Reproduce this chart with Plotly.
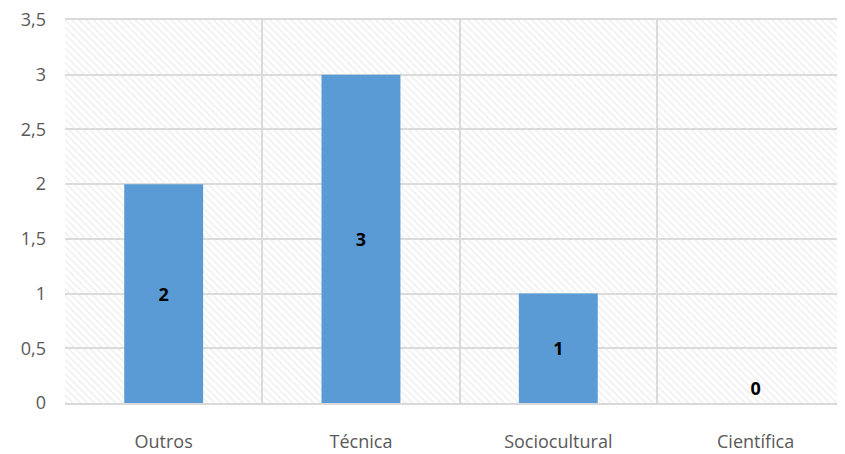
import plotly.graph_objects as go

categories = ["Outros", "Técnica", "Sociocultural", "Científica"]
values = [2, 3, 1, 0]
y_ticks = [0, 0.5, 1, 1.5, 2, 2.5, 3, 3.5]

fig = go.Figure()

# hatched plot background (primary, drawn underneath)
fig.add_trace(go.Bar(
    x=[0.5], y=[3.5], width=[1], base=[0],
    xaxis="x", yaxis="y",
    marker=dict(color="rgba(0,0,0,0)", line=dict(width=0),
                pattern=dict(shape="\\", fgcolor="#e3e3e3", bgcolor="rgba(0,0,0,0)",
                             size=5, solidity=0.35)),
    hoverinfo="skip", showlegend=False,
))

fig.add_trace(go.Bar(
    x=categories, y=values,
    xaxis="x2", yaxis="y",
    marker=dict(color="#5b9bd5", line=dict(width=0)),
    width=0.4,
    text=[str(v) for v in values],
    textposition=["inside", "inside", "inside", "outside"],
    insidetextanchor="middle",
    textfont=dict(family="Open Sans", size=18, color="black", weight="bold"),
    outsidetextfont=dict(family="Open Sans", size=18, color="black", weight="bold"),
    constraintext="none",
    cliponaxis=False,
    showlegend=False,
))

fig.update_layout(
    width=837, height=446,
    margin=dict(l=57, r=0, t=12, b=51),
    paper_bgcolor="white", plot_bgcolor="white",
    separators=",.",
    bargap=0.6,
    font=dict(family="Open Sans", size=18, color="#595959"),
    xaxis=dict(range=[0, 1], visible=False, showgrid=False, zeroline=False, fixedrange=True),
    xaxis2=dict(
        overlaying="x", anchor="y", side="bottom",
        type="category", range=[-0.5, 3.453],
        tickson="boundaries", showgrid=True, gridcolor="#d9d9d9", gridwidth=1.5,
        ticks="", showline=True, mirror=True, linecolor="#d9d9d9", linewidth=1.5,
        ticklabelstandoff=22, zeroline=False, automargin=False,
        tickfont=dict(family="Open Sans", size=18, color="#595959"),
    ),
    yaxis=dict(
        range=[0, 3.5], tickvals=y_ticks, showgrid=True, gridcolor="#d9d9d9", gridwidth=1.5,
        ticks="", zeroline=False, showline=False, ticklabelstandoff=18, automargin=False,
        ticklabeloverflow="allow",
        tickfont=dict(family="Open Sans", size=18, color="#595959"),
    ),
)

fig.write_html("out.html")
